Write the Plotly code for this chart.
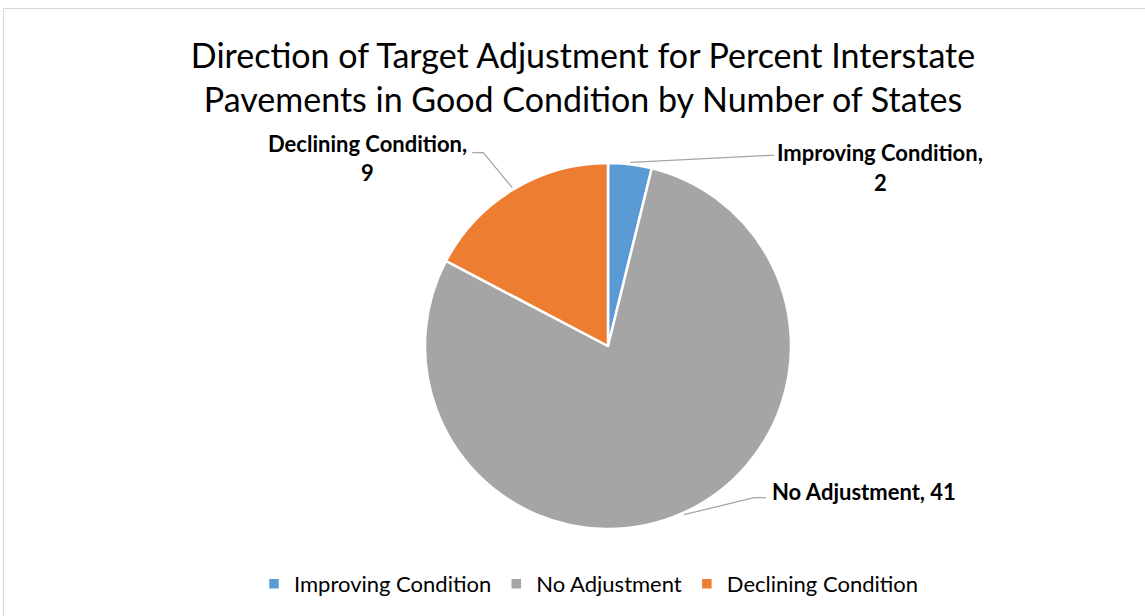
import math
import plotly.graph_objects as go

# ---- data ----
categories = ["Improving Condition", "No Adjustment", "Declining Condition"]
states = [2, 41, 9]
colors = ["#5B9BD5", "#A5A5A5", "#ED7D31"]

W, H = 1145, 616
FONT = "Lato"

# pie geometry (pixels, y down)
cx, cy, R = 608, 346, 183

def px(x):
    return x / W

def py(y):
    return 1 - y / H

fig = go.Figure()
fig.add_trace(go.Pie(
    labels=categories,
    values=states,
    marker=dict(colors=colors, line=dict(color="white", width=2.5)),
    sort=False,
    direction="clockwise",
    rotation=0,
    textinfo="none",
    hoverinfo="label+value",
    domain=dict(x=[px(cx - R), px(cx + R)], y=[py(cy + R), py(cy - R)]),
    showlegend=True,
))

# label layout styles per slice
styles = [
    dict(elbow=(140, -7), end=(4, 0), mode="two", dx=106, dy1=-3, dy2=27),
    dict(elbow=(70, -17), end=(12, 0), mode="one", dx=4, dy1=-6),
    dict(elbow=(-29, -35), end=(-11, 0), mode="two", dx=-105, dy1=-9, dy2=20),
]

total = sum(states)
cum = 0
shapes = []
annotations = []
for name, val, st in zip(categories, states, styles):
    mid = (cum + val / 2) / total * 2 * math.pi
    cum += val
    r = R + 2
    ex, ey = cx + r * math.sin(mid), cy - r * math.cos(mid)
    bx, by = ex + st["elbow"][0], ey + st["elbow"][1]
    tx, ty = bx + st["end"][0], by + st["end"][1]
    shapes.append(dict(
        type="path", xref="paper", yref="paper",
        path=f"M {px(ex)},{py(ey)} L {px(bx)},{py(by)} L {px(tx)},{py(ty)}",
        line=dict(color="#A6A6A6", width=1.3),
    ))
    lab_font = dict(family=FONT, size=22, color="#000000")
    if st["mode"] == "one":
        annotations.append(dict(
            text=f"<b>{name}, {val}</b>", x=px(tx + st["dx"]), y=py(ty + st["dy1"]),
            xref="paper", yref="paper", xanchor="left", yanchor="middle",
            showarrow=False, font=lab_font,
        ))
    else:
        annotations.append(dict(
            text=f"<b>{name},</b>", x=px(tx + st["dx"]), y=py(ty + st["dy1"]),
            xref="paper", yref="paper", xanchor="center", yanchor="middle",
            showarrow=False, font=lab_font,
        ))
        annotations.append(dict(
            text=f"<b>{val}</b>", x=px(tx + st["dx"]), y=py(ty + st["dy2"]),
            xref="paper", yref="paper", xanchor="center", yanchor="middle",
            showarrow=False, font=lab_font,
        ))

# chart area border
shapes.append(dict(
    type="rect", xref="paper", yref="paper",
    x0=px(3.5), x1=1.02, y0=-0.02, y1=py(8.5),
    line=dict(color="#D9D9D9", width=1), fillcolor="rgba(0,0,0,0)", layer="below",
))

fig.update_layout(
    width=W, height=H,
    margin=dict(l=0, r=0, t=0, b=0),
    paper_bgcolor="white",
    plot_bgcolor="white",
    title=dict(
        text="Direction of Target Adjustment for Percent Interstate<br>Pavements in Good Condition by Number of States",
        x=px(583), xanchor="center", y=py(68), yanchor="middle",
        font=dict(family=FONT, size=34, color="#000000"),
    ),
    legend=dict(
        orientation="h", x=px(589), xanchor="center", y=py(584), yanchor="middle",
        font=dict(family=FONT, size=22, color="#000000"),
        itemwidth=30,
    ),
    shapes=shapes,
    annotations=annotations,
)

fig.write_html(
    "out.html",
    config={"displayModeBar": False},
    post_script="document.body.style.margin='0';document.body.style.overflow='hidden';",
)
